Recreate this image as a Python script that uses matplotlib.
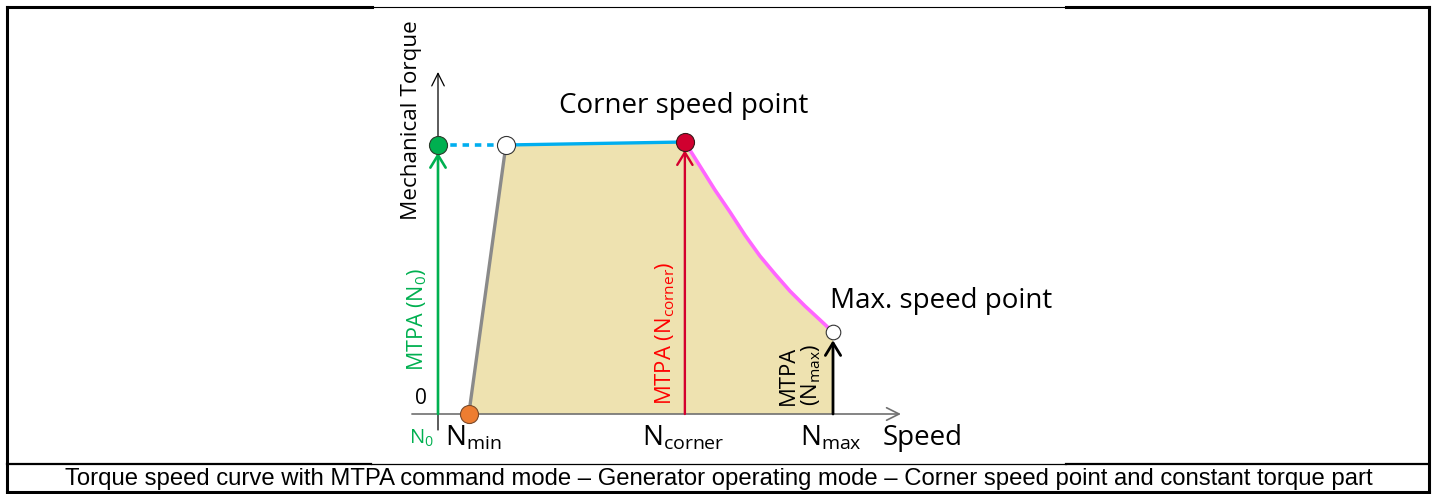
import matplotlib
matplotlib.use("Agg")
import matplotlib.pyplot as plt

plt.rcParams['font.family'] = ['Open Sans', 'DejaVu Sans']
plt.rcParams['mathtext.fontset'] = 'custom'
plt.rcParams['mathtext.rm'] = 'Open Sans'
plt.rcParams['mathtext.it'] = 'Open Sans:italic'

# Speeds normalised to N_max, torque normalised to the corner-point torque
n0 = 0.0
n_min = 0.078
n_knee = 0.172
n_corner = 0.625
n_max = 1.0

t_knee = 0.989
t_corner = 1.0
t_max_speed = 0.301

# Field-weakening branch between the corner point and the max. speed point
fw_speed = [0.625, 0.663, 0.701, 0.739, 0.777, 0.815, 0.853, 0.891, 0.929, 0.967, 1.0]
fw_torque = [1.0, 0.912, 0.824, 0.743, 0.658, 0.581, 0.515, 0.452, 0.397, 0.346, 0.301]

tick_labels = [r"$\mathrm{N}_{\mathrm{min}}$", r"$\mathrm{N}_{\mathrm{corner}}$",
               r"$\mathrm{N}_{\mathrm{max}}$"]
tick_speeds = [n_min, n_corner, n_max]

caption = ("Torque speed curve with MTPA command mode \u2013 Generator operating mode "
           "\u2013 Corner speed point and constant torque part")

W, H = 1435, 494
fig = plt.figure(figsize=(W / 100, H / 100), dpi=100)

# ---- frame and caption (pixel-coordinate background axes)
bg = fig.add_axes([0, 0, 1, 1])
bg.set_xlim(0, W)
bg.set_ylim(H, 0)
bg.axis('off')
k = 'black'
bg.plot([7, 372], [7, 7], color=k, lw=2.2, solid_capstyle='projecting')
bg.plot([372, 1066], [7, 7], color=k, lw=0.8)
bg.plot([1066, 1429], [7, 7], color=k, lw=2.2, solid_capstyle='projecting')
bg.plot([7, 7], [7, 492], color=k, lw=2.2, solid_capstyle='projecting')
bg.plot([1429, 1429], [7, 492], color=k, lw=2.2, solid_capstyle='projecting')
bg.plot([7, 1429], [492, 492], color=k, lw=2.2, solid_capstyle='projecting')
bg.plot([7, 371], [464, 464], color=k, lw=1.6)
bg.plot([371, 1066], [464, 464], color=k, lw=0.9)
bg.plot([1066, 1429], [464, 464], color=k, lw=1.6)
bg.text(719, 479, caption, ha='center', va='center', fontsize=17.2,
        family=['Liberation Sans', 'DejaVu Sans'])

# ---- torque / speed diagram
L, R, T, B = 372, 1066, 8, 463
ax = fig.add_axes([L / W, (H - B) / H, (R - L) / W, (B - T) / H])
ax.set_xlim((L - 438) / 395, (R - 438) / 395)
ax.set_ylim((414 - B) / 272, (414 - T) / 272)
ax.axis('off')

# operating area
poly_x = [n_min, n_knee, n_corner] + fw_speed[1:] + [n_max, n_min]
poly_y = [0, t_knee, t_corner] + fw_torque[1:] + [0, 0]
ax.fill(poly_x, poly_y, color='#EEE2B0', lw=0, zorder=1)

# axes with open arrow heads
ax.annotate('', xy=(1.172, 0), xytext=(-0.066, 0),
            arrowprops=dict(arrowstyle='->,head_length=0.9,head_width=0.45',
                            color='#707070', lw=1.2, shrinkA=0, shrinkB=0),
            zorder=3)
ax.annotate('', xy=(0, (414 - 72) / 272), xytext=(0, (414 - 430) / 272),
            arrowprops=dict(arrowstyle='->,head_length=0.9,head_width=0.45',
                            color='black', lw=0.9, shrinkA=0, shrinkB=0),
            zorder=3)

# boundary lines
ax.plot([n_min, n_knee], [0, t_knee], color='#8A8A8A', lw=2.4, zorder=4,
        solid_capstyle='round')
ax.plot([n_knee, n_corner], [t_knee, t_corner], color='#00AEEF', lw=2.4, zorder=4)
ax.plot([n0, n_knee], [t_knee, t_knee], color='#00AEEF', lw=2.6, zorder=4,
        linestyle=(0, (1.8, 1.6)), dash_capstyle='butt')
ax.plot(fw_speed, fw_torque, color='#FF66FF', lw=2.6, zorder=4)

# MTPA command arrows
def up_arrow(x, y_top, color, lw):
    ax.annotate('', xy=(x, y_top), xytext=(x, 0),
                arrowprops=dict(arrowstyle='->,head_length=0.9,head_width=0.55',
                                color=color, lw=lw, shrinkA=0, shrinkB=0),
                zorder=5)

up_arrow(n0, t_knee - 0.028, '#00B050', 1.9)
up_arrow(n_corner, t_corner - 0.03, '#D4002E', 1.7)
up_arrow(n_max, t_max_speed - 0.03, 'black', 2.0)

# operating points
ms = 13
ax.plot([n0], [t_knee], 'o', ms=ms, mfc='#00B050', mec='#2b3b2b', mew=0.8, zorder=6)
ax.plot([n_knee], [t_knee], 'o', ms=ms, mfc='white', mec='#333333', mew=0.8, zorder=6)
ax.plot([n_corner], [t_corner], 'o', ms=ms, mfc='#D0002F', mec='#3a1a1a', mew=0.8, zorder=6)
ax.plot([n_max], [t_max_speed], 'o', ms=10.5, mfc='white', mec='#333333', mew=0.8, zorder=6)
ax.plot([n_min], [0], 'o', ms=ms, mfc='#ED7D31', mec='#7a4a2a', mew=0.8, zorder=6)

# labels
ax.text(0.623, 1.132, 'Corner speed point', ha='center', va='center', fontsize=20)
ax.text(1.273, 0.415, 'Max. speed point', ha='center', va='center', fontsize=20)
ax.text(-0.066, 1.081, 'Mechanical Torque', ha='center', va='center',
        rotation=90, fontsize=16.2)
ax.text(-0.043, 0.058, '0', ha='center', va='center', fontsize=15)
ax.text(-0.043, -0.088, r'$\mathrm{N}_{0}$', ha='center', va='center',
        fontsize=14.5, color='#00B050')
for s, lab in zip(tick_speeds, tick_labels):
    ax.text(s + (0.01 if s == n_min else -0.005), -0.09, lab, ha='center',
            va='center', fontsize=20)
ax.text(1.226, -0.088, 'Speed', ha='center', va='center', fontsize=20)

ax.text(-0.053, 0.346, r'MTPA (N$_{0}$)', ha='center', va='center', rotation=90,
        fontsize=15.5, color='#00B050')
ax.text(0.575, 0.298, r'MTPA (N$_{\mathrm{corner}}$)', ha='center', va='center',
        rotation=90, fontsize=15.8, color='#FF0000')
ax.text(0.917, 0.143, 'MTPA\n' + r'(N$_{\mathrm{max}}$)', ha='center', va='center',
        rotation=90, fontsize=15.8, color='black', linespacing=1.0)

fig.savefig('out.png', dpi=100)
